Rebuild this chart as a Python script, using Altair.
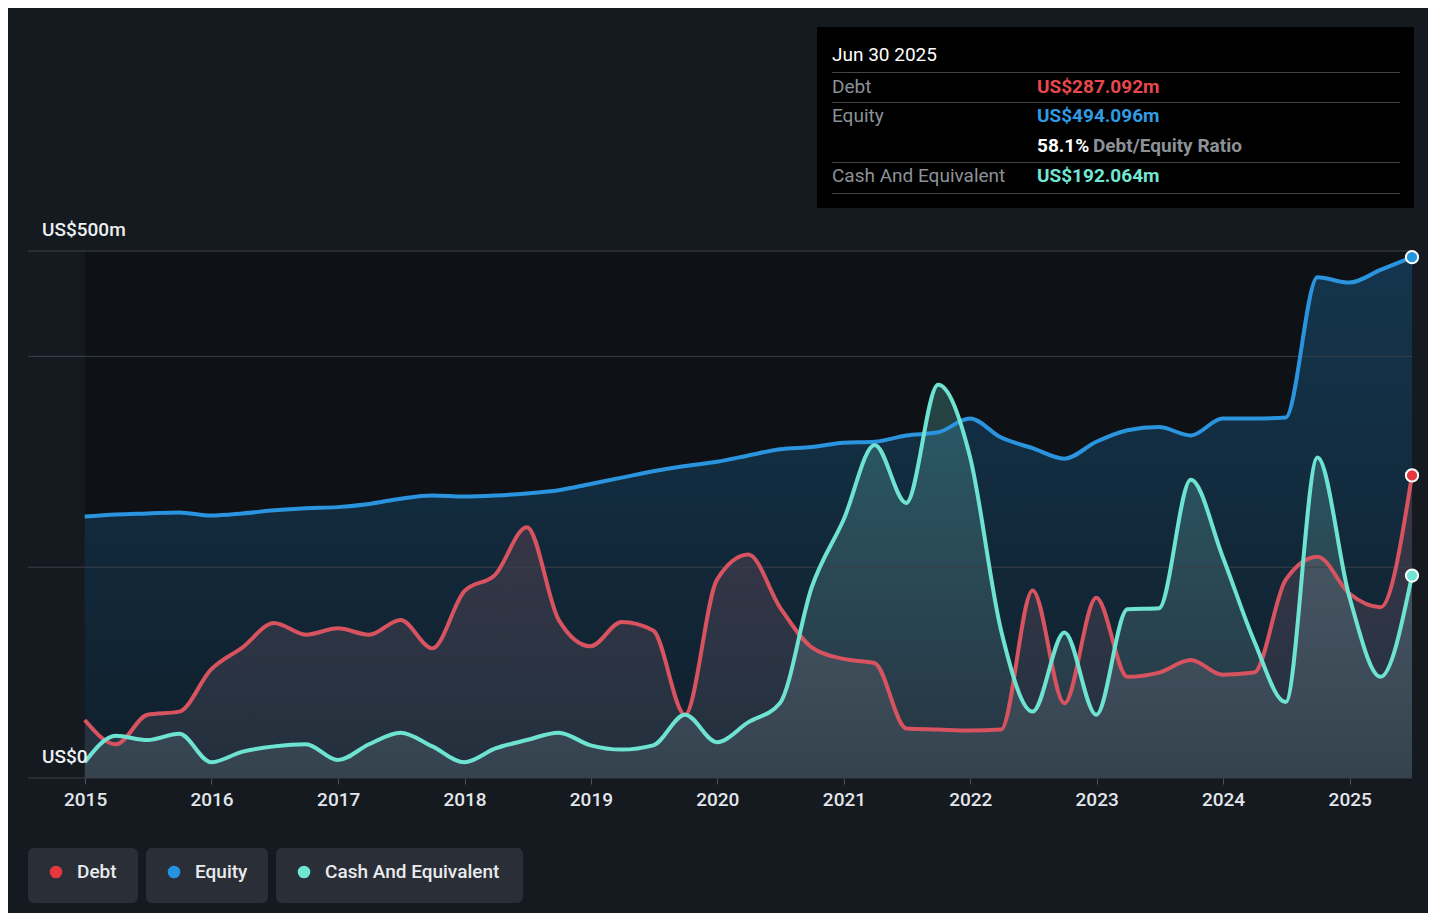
import altair as alt
import pandas as pd

# ---------------- data (quarter ends) ----------------
dates = [
    "2014-12-31", "2015-03-31", "2015-06-30", "2015-09-30",
    "2015-12-31", "2016-03-31", "2016-06-30", "2016-09-30",
    "2016-12-31", "2017-03-31", "2017-06-30", "2017-09-30",
    "2017-12-31", "2018-03-31", "2018-06-30", "2018-09-30",
    "2018-12-31", "2019-03-31", "2019-06-30", "2019-09-30",
    "2019-12-31", "2020-03-31", "2020-06-30", "2020-09-30",
    "2020-12-31", "2021-03-31", "2021-06-30", "2021-09-30",
    "2021-12-31", "2022-03-31", "2022-06-30", "2022-09-30",
    "2022-12-31", "2023-03-31", "2023-06-30", "2023-09-30",
    "2023-12-31", "2024-03-31", "2024-06-30", "2024-09-30",
    "2024-12-31", "2025-03-31", "2025-06-30",
]
debt = [55, 32, 60, 63, 103, 124, 147, 136, 142, 136, 150, 123, 177, 193, 238,
        150, 125, 148, 140, 60, 188, 212, 162, 124, 113, 109, 47, 46, 45, 46,
        178, 71, 171, 96, 100, 112, 98, 100, 188, 210, 175, 162, 287.092]
equity = [248, 250, 251, 252, 249, 251, 254, 256, 257, 260, 265, 268, 267, 268,
          270, 273, 279, 285, 291, 296, 300, 306, 312, 314, 318, 319, 325, 328,
          341, 323, 313, 303, 319, 330, 333, 325, 341, 341, 342, 475, 470, 482,
          494.096]
cash = [15, 40, 36, 42, 15, 25, 30, 32, 17, 32, 43, 30, 15, 28, 36, 43, 31, 27,
        31, 60, 34, 53, 71, 181, 245, 316, 261, 373, 305, 140, 63, 138, 60, 160,
        161, 283, 210, 130, 72, 304, 172, 96, 192.064]

year_ticks = [f"{y}-01-01" for y in range(2015, 2026)]
grid_values = [0, 200, 400, 500]
y_label_values = [500, 0]
y_label_texts = ["US$500m", "US$0"]
series = ["Debt", "Equity", "Cash And Equivalent"]
tooltip_date = "Jun 30 2025"

# ---------------- styles ----------------
W, H = 1384, 527
PAGE_BG = "#151a21"
PLOT_BG = "#0e1116"
FONT = "Roboto"
COL_LINE = {"Debt": "#d6535f", "Equity": "#2a94de", "Cash And Equivalent": "#6ee3d1"}
COL_DOT = {"Debt": "#e5383e", "Equity": "#2394df", "Cash And Equivalent": "#6fe5d3"}
COL_VAL = {"Debt": "#e8484d", "Equity": "#2f9be4", "Cash And Equivalent": "#72e6d5"}

df = pd.DataFrame({"date": dates, "Debt": debt, "Equity": equity, "Cash": cash})
last = df.iloc[[-1]].reset_index(drop=True)

xs = alt.Scale(domain=["2014-07-20", "2025-06-30"])
ys = alt.Scale(domain=[0, 500], nice=False)

xaxis = alt.Axis(
    values=year_ticks,
    format="%Y", title=None, grid=False, domain=False,
    labelColor="#e3e6ea", labelFontSize=19, labelFont=FONT, labelFontWeight=500,
    tickColor="#4d535b", tickSize=6, tickWidth=1, labelPadding=6,
)
X = alt.X("date:T", scale=xs, axis=xaxis)


def Y(field):
    return alt.Y(field, type="quantitative", scale=ys, axis=None)


def grad(top, bottom):
    return alt.Gradient(
        gradient="linear",
        stops=[alt.GradientStop(color=top, offset=0),
               alt.GradientStop(color=bottom, offset=1)],
        x1=0, x2=0, y1=0, y2=1,
    )


base = alt.Chart(df)

bg = alt.Chart(pd.DataFrame({"start": [dates[0]], "end": [dates[-1]],
                             "top": [500], "bottom": [0]})).mark_rect(
    color=PLOT_BG).encode(
    x=alt.X("start:T", scale=xs, axis=xaxis), x2="end:T",
    y=Y("top"), y2="bottom:Q")

area_eq = base.mark_area(interpolate="monotone",
                         color=grad("rgba(35,148,223,0.28)", "rgba(35,148,223,0.10)")
                         ).encode(x=X, y=Y("Equity"))
area_debt = base.mark_area(interpolate="monotone",
                           color=grad("rgba(226,84,98,0.20)", "rgba(190,190,205,0.10)")
                           ).encode(x=X, y=Y("Debt"))
area_cash = base.mark_area(interpolate="monotone",
                           color=grad("rgba(110,231,213,0.24)", "rgba(190,205,215,0.12)")
                           ).encode(x=X, y=Y("Cash"))

grid = alt.Chart(pd.DataFrame({"v": grid_values})).mark_rule(
    color="#3c4149", strokeWidth=1).encode(
    y=Y("v"), x=alt.value(0), x2=alt.value(W))

LW = 4
line_eq = base.mark_line(interpolate="monotone", color=COL_LINE["Equity"],
                         strokeWidth=LW).encode(x=X, y=Y("Equity"))
line_debt = base.mark_line(interpolate="monotone", color=COL_LINE["Debt"],
                           strokeWidth=LW).encode(x=X, y=Y("Debt"))
line_cash = base.mark_line(interpolate="monotone", color=COL_LINE["Cash And Equivalent"],
                           strokeWidth=LW).encode(x=X, y=Y("Cash"))

lastc = alt.Chart(last)
dots = [
    lastc.mark_point(filled=True, shape="circle", size=150, color=COL_DOT[s],
                     stroke="white", strokeWidth=2, opacity=1
                     ).encode(x=X, y=Y(f))
    for s, f in [("Equity", "Equity"), ("Debt", "Debt"), ("Cash And Equivalent", "Cash")]
]

ylab = alt.Chart(pd.DataFrame({"v": y_label_values, "t": y_label_texts})).mark_text(
    align="left", baseline="middle", dy=-21, font=FONT, fontSize=19,
    fontWeight=500, color="#eef0f2").encode(
    y=Y("v"), x=alt.value(14), text="t:N")

one = pd.DataFrame({"k": [0]})


def txt(x, y, s, color, size=19, weight="normal"):
    return alt.Chart(one).mark_text(
        text=s, color=color, fontSize=size, fontWeight=weight, font=FONT,
        align="left", baseline="middle").encode(x=alt.value(x), y=alt.value(y))


def box(x, x2, y, y2, color, r=0):
    return alt.Chart(one).mark_rect(color=color, cornerRadius=r).encode(
        x=alt.value(x), x2=alt.value(x2), y=alt.value(y), y2=alt.value(y2))


def hline(x, x2, y, color):
    return alt.Chart(one).mark_rule(color=color, strokeWidth=1).encode(
        x=alt.value(x), x2=alt.value(x2), y=alt.value(y))


LBL = "#8c9197"
ratio = debt[-1] / equity[-1] * 100
tip = [
    box(789, 1386, -224, -43, "#000000"),
    txt(804, -196, tooltip_date, "#ffffff", size=19),
    hline(804, 1372, -178.5, "#444444"),
    hline(804, 1372, -148.5, "#444444"),
    hline(804, 1372, -88.5, "#444444"),
    hline(804, 1372, -57.5, "#444444"),
    txt(804, -164, "Debt", LBL),
    txt(1009, -164, f"US${debt[-1]:.3f}m", COL_VAL["Debt"], weight="bold"),
    txt(804, -135, "Equity", LBL),
    txt(1009, -135, f"US${equity[-1]:.3f}m", COL_VAL["Equity"], weight="bold"),
    txt(1009, -105, f"{ratio:.1f}%", "#ffffff", weight="bold"),
    txt(1065, -105, "Debt/Equity Ratio", LBL, weight="bold"),
    txt(804, -75, "Cash And Equivalent", LBL),
    txt(1009, -75, f"US${cash[-1]:.3f}m", COL_VAL["Cash And Equivalent"], weight="bold"),
]

legend = []
legend_boxes = [(0, 110), (118, 240), (248, 495)]
for (bx, bx2), s in zip(legend_boxes, series):
    legend.append(box(bx, bx2, 597, 652, "#2a2e36", r=6))
    legend.append(alt.Chart(one).mark_point(
        filled=True, shape="circle", size=160, color=COL_DOT[s], opacity=1
    ).encode(x=alt.value(bx + 28), y=alt.value(621)))
    legend.append(txt(bx + 49, 621, s, "#e9ebee", size=19, weight=500))

chart = alt.layer(
    bg, area_eq, area_debt, area_cash, grid,
    line_eq, line_debt, line_cash, *dots, ylab, *tip, *legend,
).properties(
    width=W, height=H,
    autosize=alt.AutoSizeParams(type="none"),
    padding={"left": 20, "top": 243, "right": 16, "bottom": 135},
).configure(background=PAGE_BG).configure_view(strokeWidth=0)

chart.save("out.html", embed_options={"renderer": "svg", "actions": False})
